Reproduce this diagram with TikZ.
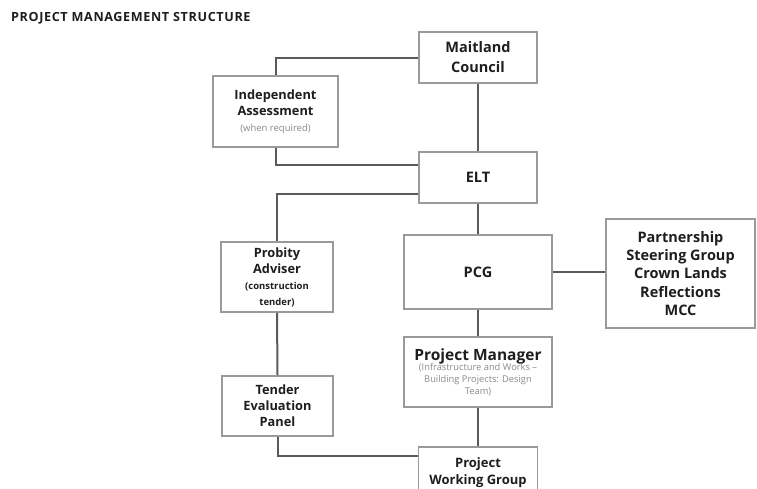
\documentclass[tikz,border=0pt]{standalone}
\usepackage{fontspec}
\setmainfont{Open Sans}
\definecolor{boxgray}{HTML}{9A9A9A}
\definecolor{linegray}{HTML}{5A5A5A}
\definecolor{txt}{HTML}{1E1E1E}
\definecolor{subgray}{HTML}{8A8A8A}
\begin{document}
\begin{tikzpicture}[x=1pt,y=-1pt,
  box/.style={draw=boxgray, line width=1.6pt, fill=white, align=center, inner sep=1pt, text=txt},
  big/.style={box, font=\fontsize{14.5}{20}\selectfont\bfseries},
  mid/.style={box, font=\fontsize{12.8}{16}\selectfont\bfseries},
  conn/.style={draw=linegray, line width=2pt}]
\path[use as bounding box, clip] (0,0) rectangle (757,488);
\fill[white] (0,0) rectangle (757,488);
\node[anchor=west, font=\fontsize{12.6}{13}\selectfont\bfseries\addfontfeature{LetterSpace=5}, text=txt, inner sep=0pt] (title) at (11,18) {PROJECT MANAGEMENT STRUCTURE};
% boxes
\node[big, minimum width=118pt, minimum height=51pt] (mc) at (478,57.5) {Maitland\\Council};
\node[mid, minimum width=125pt, minimum height=71pt] (ia) at (275.5,111.5) {Independent\\Assessment\\{\fontsize{9.5}{12}\selectfont\mdseries\color{subgray}(when required)}};
\node[big, minimum width=118pt, minimum height=51pt] (elt) at (478,177.5) {ELT};
\node[mid, minimum width=112pt, minimum height=70pt] (pa) at (277,277) {Probity\\Adviser\\{\fontsize{9.5}{13}\selectfont(construction}\\{\fontsize{9.5}{13}\selectfont tender)}};
\node[big, minimum width=148pt, minimum height=74pt] (pcg) at (478,272) {PCG};
\node[box, font=\fontsize{14.5}{18.3}\selectfont\bfseries, minimum width=149pt, minimum height=109pt] (rb) at (680.5,273.5) {Partnership\\Steering Group\\Crown Lands\\Reflections\\MCC};
\node[box, minimum width=148pt, minimum height=70pt] (pm) at (478,372) {{\fontsize{15.5}{18}\selectfont\bfseries Project Manager}\\[-2pt]{\fontsize{9.3}{13}\selectfont\color{subgray}(Infrastructure and Works --}\\{\fontsize{9.3}{13}\selectfont\color{subgray}Building Projects: Design}\\{\fontsize{9.3}{13}\selectfont\color{subgray}Team)}};
\node[mid, minimum width=111pt, minimum height=60pt] (tep) at (277.5,406) {Tender\\Evaluation\\Panel};
\node[big, font=\fontsize{13}{17}\selectfont\bfseries, minimum width=119pt, minimum height=48pt, text depth=0pt] (pwg) at (478,471) {Project\\Working Group};
% connectors
\draw[conn] (mc.west) -| (ia.north);
\draw[conn] (mc.south) -- (elt.north);
\draw[conn] (ia.south) |- ([yshift=-14pt]elt.north west);
\draw[conn] ([yshift=10pt]elt.south west) -| (pa.north);
\draw[conn] (elt.south) -- (pcg.north);
\draw[conn] (pcg.east) -- (pcg.east -| rb.west);
\draw[conn] (pa.south) -- (tep.north);
\draw[conn] (pcg.south) -- (pm.north);
\draw[conn] (pm.south) -- (pwg.north);
\draw[conn] (tep.south) |- ([yshift=-10pt]pwg.north west);
\end{tikzpicture}
\end{document}
